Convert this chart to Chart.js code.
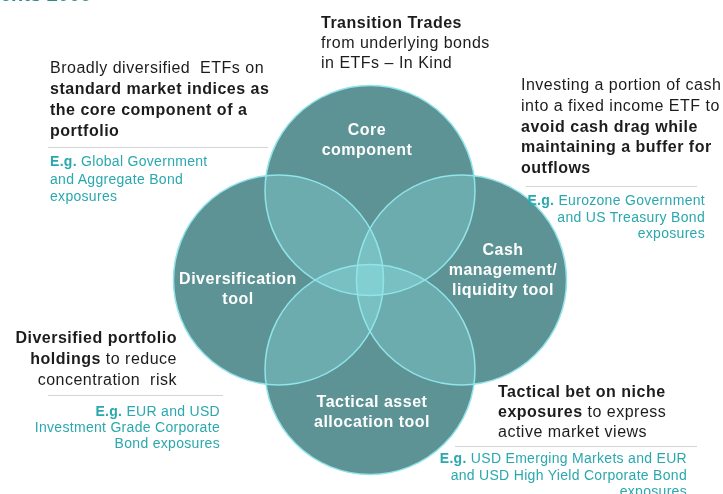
<!DOCTYPE html>
<html>
<head>
<meta charset="utf-8">
<script src="https://cdn.jsdelivr.net/npm/chart.js@4"></script>
<style>
  body { margin: 0; background: #fff; font-family: "Liberation Sans", Arial, sans-serif; }
  #wrap { position: relative; width: 723px; height: 494px; overflow: hidden; }
  canvas { position: absolute; left: 0; top: 0; }
  .t { position: absolute; font-size: 16px; letter-spacing: 0.5px; color: #1c1c1c; white-space: nowrap; }
  .t b { font-weight: bold; }
  .eg { position: absolute; font-size: 14px; letter-spacing: 0.3px; color: #2aa8ae; white-space: nowrap; }
  .eg b { font-weight: bold; }
  .sep { position: absolute; height: 1px; background: #d4d4d4; }
  .lab { position: absolute; width: 200px; text-align: center; color: #fff; font-weight: bold;
         font-size: 16px; letter-spacing: 0.5px; line-height: 20px; }
  .title { position: absolute; left: 0; top: -16px; color: #2f8a8e; font-weight: bold; font-size: 20px; line-height: 20px; }
</style>
</head>
<body>
<div id="wrap">
  <canvas id="venn" width="723" height="494"></canvas>
  <div class="title">ents 2008</div>

  <div class="t" style="left:321px; top:13px; line-height:20px;"><b>Transition Trades</b><br>from underlying bonds<br>in ETFs – In Kind</div>

  <div class="t" style="left:50px; top:57px; line-height:21px;">Broadly diversified&nbsp; ETFs on<br><b>standard market indices as<br>the core component of a<br>portfolio</b></div>
  <div class="sep" style="left:48px; top:147px; width:220px;"></div>
  <div class="eg" style="left:50px; top:153px; line-height:17.5px;"><b>E.g.</b> Global Government<br>and Aggregate Bond<br>exposures</div>

  <div class="t" style="left:521px; top:75px; line-height:20.8px;">Investing a portion of cash<br>into a fixed income ETF to<br><b>avoid cash drag while<br>maintaining a buffer for<br>outflows</b></div>
  <div class="sep" style="left:526px; top:186px; width:171px;"></div>
  <div class="eg" style="right:18px; top:192px; line-height:16.5px; text-align:right;"><b>E.g.</b> Eurozone Government<br>and US Treasury Bond<br>exposures</div>

  <div class="t" style="right:546px; top:327px; line-height:21px; text-align:right;"><b>Diversified portfolio<br>holdings</b> to reduce<br>concentration&nbsp; risk</div>
  <div class="sep" style="left:48px; top:395px; width:175px;"></div>
  <div class="eg" style="right:503px; top:403px; line-height:16px; text-align:right;"><b>E.g.</b> EUR and USD<br>Investment Grade Corporate<br>Bond exposures</div>

  <div class="t" style="left:498px; top:382px; line-height:20px;"><b>Tactical bet on niche<br>exposures</b> to express<br>active market views</div>
  <div class="sep" style="left:455px; top:446px; width:242px;"></div>
  <div class="eg" style="right:36px; top:450px; line-height:16.5px; text-align:right;"><b>E.g.</b> USD Emerging Markets and EUR<br>and USD High Yield Corporate Bond<br>exposures</div>

  <div class="lab" style="left:267px; top:120px;">Core<br>component</div>
  <div class="lab" style="left:138px; top:269px;">Diversification<br>tool</div>
  <div class="lab" style="left:403px; top:240px;">Cash<br>management/<br>liquidity tool</div>
  <div class="lab" style="left:272px; top:392px;">Tactical asset<br>allocation tool</div>
</div>

<script>
// four uses of fixed income ETFs, one circle each
const circleNames = ['Core component', 'Diversification tool', 'Cash management/liquidity tool', 'Tactical asset allocation tool'];
const circleX = [0, -1, 1, 0];
const circleY = [1, 0, 0, -1];
const circleR = [105, 105, 105, 105];

function circlePoints() {
    return circleNames.map((name, i) => ({ x: circleX[i], y: circleY[i], r: circleR[i] }));
}

// bubble charts pad the chart area by the largest radius, so the axis ranges allow for that
const ctx = document.getElementById('venn').getContext('2d');
const venn = new Chart(ctx, {
    type: 'bubble',
    data: {
        labels: circleNames,
        datasets: [
            {
                // solid base of each circle
                label: 'base',
                data: circlePoints(),
                backgroundColor: 'rgb(73, 113, 116)',
                borderWidth: 0,
                clip: false,
                order: 3
            },
            {
                // light wash so overlaps get lighter
                label: 'overlap',
                data: circlePoints(),
                backgroundColor: 'rgba(160, 255, 255, 0.24)',
                borderWidth: 0,
                clip: false,
                order: 2
            },
            {
                label: 'outline',
                data: circlePoints(),
                backgroundColor: 'rgba(0, 0, 0, 0)',
                borderColor: '#90e4ea',
                borderWidth: 1.5,
                clip: false,
                order: 1
            }
        ]
    },
    options: {
        responsive: false,
        animation: false,
        devicePixelRatio: 1,
        events: [],
        layout: { padding: 0 },
        plugins: {
            legend: { display: false },
            tooltip: { enabled: false }
        },
        scales: {
            x: { display: false, min: -2.880, max: 2.694 },
            y: { display: false, min: -1.201, max: 1.9385 }
        }
    }
});
</script>
</body>
</html>
